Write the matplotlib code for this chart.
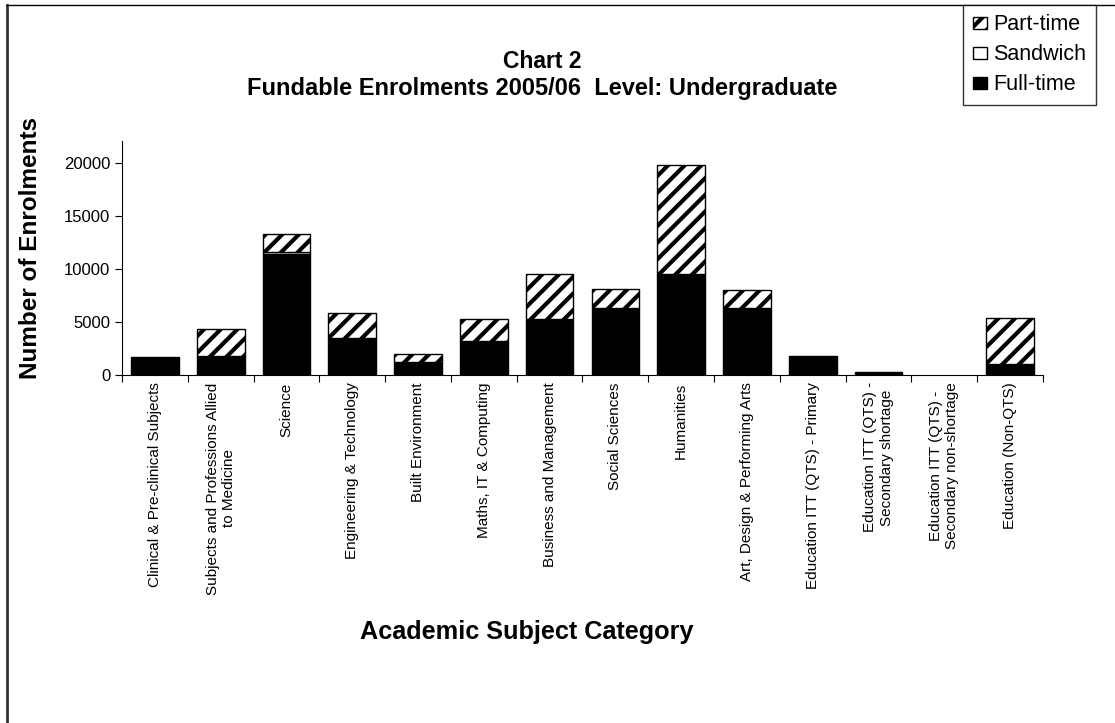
import matplotlib
matplotlib.use("Agg")
import matplotlib.pyplot as plt
import numpy as np
from matplotlib.lines import Line2D

plt.rcParams['font.family'] = ['Liberation Sans', 'DejaVu Sans']
plt.rcParams['hatch.linewidth'] = 3.0

categories = [
    "Clinical & Pre-clinical Subjects",
    "Subjects and Professions Allied\nto Medicine",
    "Science",
    "Engineering & Technology",
    "Built Environment",
    "Maths, IT & Computing",
    "Business and Management",
    "Social Sciences",
    "Humanities",
    "Art, Design & Performing Arts",
    "Education ITT (QTS) - Primary",
    "Education ITT (QTS) -\nSecondary shortage",
    "Education ITT (QTS) -\nSecondary non-shortage",
    "Education (Non-QTS)",
]
full_time = [1720, 1850, 11380, 3510, 1280, 3230, 5330, 6360, 9530, 6360, 1850, 320, 0, 1050]
sandwich = [0, 0, 220, 0, 0, 0, 0, 0, 0, 0, 0, 0, 0, 0]
part_time = [0, 2530, 1670, 2380, 700, 2070, 4170, 1790, 10260, 1670, 0, 0, 0, 4350]
yticks = [0, 5000, 10000, 15000, 20000]

fig = plt.figure(figsize=(11.15, 7.23), dpi=100)
ax = fig.add_axes([0.1094, 0.4809, 0.8260, 0.3234])

x = np.arange(len(categories))
ft = np.array(full_time)
sw = np.array(sandwich)
pt = np.array(part_time)
w = 0.725
lw = lambda vals: [1 if v > 0 else 0 for v in vals]  # no edge on empty segments
ax.bar(x, ft, w, color='black', edgecolor='black', linewidth=lw(ft))
ax.bar(x, sw, w, bottom=ft, color='white', edgecolor='black', linewidth=lw(sw))
ax.bar(x, pt, w, bottom=ft + sw, color='white', edgecolor='black', hatch='//', linewidth=lw(pt))

ax.set_xlim(-0.5, len(categories) - 0.5)
ax.set_ylim(0, 22000)
ax.set_yticks(yticks)
ax.set_yticklabels([str(v) for v in yticks], fontsize=12)
ax.set_xticks(np.arange(len(categories) + 1) - 0.5)
ax.set_xticklabels([])
ax.tick_params(axis='x', length=5, direction='out')
ax.tick_params(axis='y', length=5, direction='out')
for i, c in enumerate(categories):
    ax.text(i, -0.03, c, transform=ax.get_xaxis_transform(), rotation=90,
            ha='center', va='top', multialignment='center', fontsize=11)
ax.spines['top'].set_visible(False)
ax.spines['right'].set_visible(False)

fig.text(0.027, 1 - 248 / 723, "Number of Enrolments", rotation=90, ha='center', va='center',
         fontsize=17.5, fontweight='bold')
fig.text(527 / 1115, 1 - 632 / 723, "Academic Subject Category", ha='center', va='center',
         fontsize=18.2, fontweight='bold')
fig.text(542 / 1115, 1 - 62 / 723, "Chart 2", ha='center', va='center', fontsize=16.5, fontweight='bold')
fig.text(542 / 1115, 1 - 88 / 723, "Fundable Enrolments 2005/06  Level: Undergraduate",
         ha='center', va='center', fontsize=17, fontweight='bold')

# outer frame (left and top only visible)
fig.add_artist(Line2D([0.0066, 0.0066], [0, 0.9935], transform=fig.transFigure, color='#333333', lw=2))
fig.add_artist(Line2D([0.0066, 1], [0.9935, 0.9935], transform=fig.transFigure, color='black', lw=1))

handles = [
    plt.Rectangle((0, 0), 1, 1, facecolor='white', edgecolor='black', hatch='//'),
    plt.Rectangle((0, 0), 1, 1, facecolor='white', edgecolor='black'),
    plt.Rectangle((0, 0), 1, 1, facecolor='black', edgecolor='black'),
]
leg = fig.legend(handles, ["Part-time", "Sandwich", "Full-time"],
                 loc='upper left', bbox_to_anchor=(963 / 1115, 0.9935),
                 fontsize=15.5, frameon=True, fancybox=False, edgecolor='black',
                 handlelength=0.65, handleheight=0.5, handletextpad=0.3,
                 labelspacing=0.42, borderpad=0.45, borderaxespad=0)
leg.get_frame().set_linewidth(1)

fig.savefig("out.png", dpi=100)
